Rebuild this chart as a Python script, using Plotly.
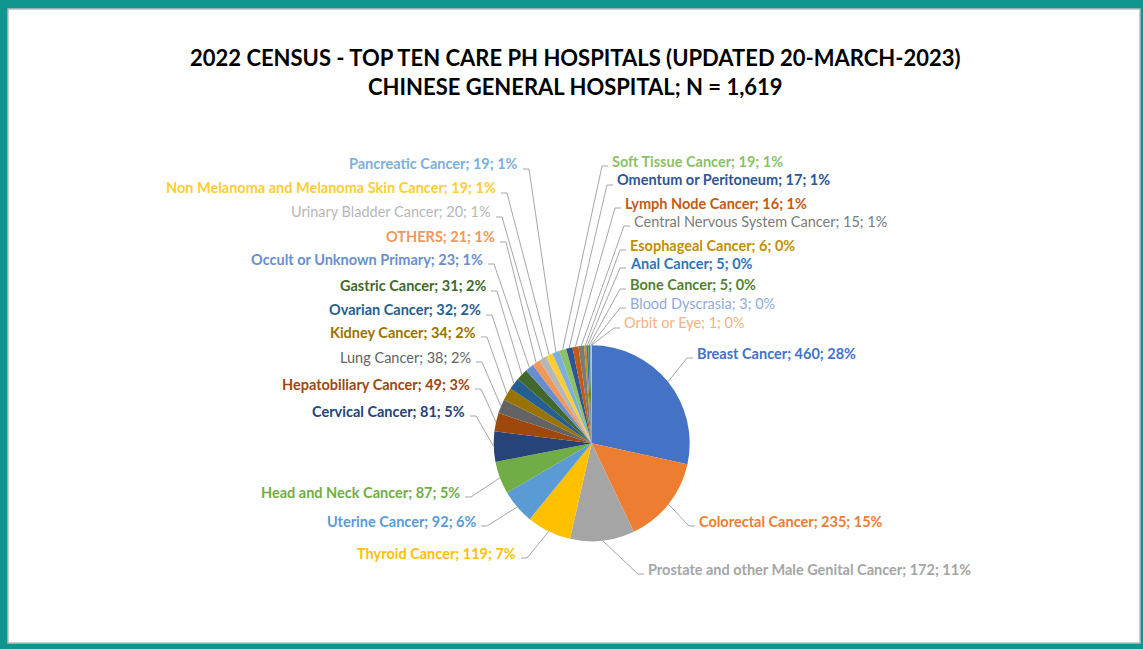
import plotly.graph_objects as go
import math

# data (clockwise from 12 o'clock)
cancers = [
    "Breast Cancer", "Colorectal Cancer", "Prostate and other Male Genital Cancer",
    "Thyroid Cancer", "Uterine Cancer", "Head and Neck Cancer", "Cervical Cancer",
    "Hepatobiliary Cancer", "Lung Cancer", "Kidney Cancer", "Ovarian Cancer",
    "Gastric Cancer", "Occult or Unknown Primary", "OTHERS", "Urinary Bladder Cancer",
    "Non Melanoma and Melanoma Skin Cancer", "Pancreatic Cancer", "Soft Tissue Cancer",
    "Omentum or Peritoneum", "Lymph Node Cancer", "Central Nervous System Cancer",
    "Esophageal Cancer", "Anal Cancer", "Bone Cancer", "Blood Dyscrasia", "Orbit or Eye",
]
counts = [460, 235, 172, 119, 92, 87, 81, 49, 38, 34, 32, 31, 23, 21, 20,
          19, 19, 19, 17, 16, 15, 6, 5, 5, 3, 1]

# excel office palette
colors = ["#4472C4", "#ED7D31", "#A5A5A5", "#FFC000", "#5B9BD5", "#70AD47",
          "#264478", "#9E480E", "#636363", "#997300", "#255E91", "#43682B",
          "#698ED0", "#F1975A", "#B7B7B7", "#FFCD33", "#7CAFDD", "#8CC168",
          "#2F5597", "#C55A11", "#7B7B7B", "#BF9000", "#2E75B6", "#548235",
          "#8FAADC", "#F4B183"]

W, H = 1143, 649
CX, CY, R = 591.7, 443.3, 98

# label placement (pixels): right-anchored on the left side, left-anchored on the right
label_pos = [
    (695, 353, "r"), (697, 521, "r"), (646, 569, "r"), (518, 553, "l"),
    (478, 521, "l"), (462, 492, "l"), (467, 411, "l"), (472, 384, "l"),
    (473, 357, "l"), (478, 332, "l"), (483, 310, "l"), (488, 286, "l"),
    (485, 259, "l"), (497, 237, "l"), (493, 212, "l"), (498, 188, "l"),
    (520, 164, "l"), (610, 161, "r"), (615, 180, "r"), (623, 203, "r"),
    (632, 221, "r"), (628, 245, "r"), (628, 263, "r"), (628, 284, "r"),
    (628, 303, "r"), (622, 323, "r"),
]
bold = [1, 1, 1, 1, 1, 1, 1, 1, 0, 1, 1, 1, 1, 1, 0, 1, 1, 1, 1, 1, 0, 1, 1, 1, 0, 0]


def px(x, y):
    return x / W, 1 - y / H


total = sum(counts)

fig = go.Figure(go.Pie(
    labels=cancers, values=counts, sort=False, direction="clockwise", rotation=0,
    marker=dict(colors=colors, line=dict(width=0)), textinfo="none",
    domain=dict(x=[(CX - R) / W, (CX + R) / W], y=[1 - (CY + R) / H, 1 - (CY - R) / H]),
    showlegend=False,
))

shapes = []
# teal frame with white card
x0, y0 = px(8, 9)
x1, y1 = px(1140, 643)
shapes.append(dict(type="rect", xref="paper", yref="paper", x0=x0, y0=y1, x1=x1, y1=y0,
                   fillcolor="white", line=dict(color="#BDBDBD", width=1.5), layer="below"))

annotations = []
cum = 0
for name, v, col, (lx, ly, side), b in zip(cancers, counts, colors, label_pos, bold):
    mid = (cum + v / 2) / total * 2 * math.pi
    cum += v
    ex, ey = CX + R * math.sin(mid), CY - R * math.cos(mid)
    txt = f"{name}; {v}; {round(v / total * 100)}%"
    if b:
        txt = f"<b>{txt}</b>"
    ax, ay = px(lx, ly)
    annotations.append(dict(text=txt, x=ax, y=ay, xref="paper", yref="paper",
                            xanchor="left" if side == "r" else "right", yanchor="middle",
                            showarrow=False, font=dict(family="Lato", size=14.5, color=col)))
    if side == "r":
        tx0, tx1 = lx - 2, lx - 8
    else:
        tx0, tx1 = lx + 3, lx + 9
    pa = px(tx0, ly + 5)
    pb = px(tx1, ly + 5)
    pc = px(ex, ey)
    shapes.append(dict(type="path", xref="paper", yref="paper",
                       path=f"M {pa[0]},{pa[1]} L {pb[0]},{pb[1]} L {pc[0]},{pc[1]}",
                       line=dict(color="#A6A6A6", width=1)))

t1 = px(575, 42)
t2 = px(575, 71)
annotations.append(dict(text="<b>2022 CENSUS - TOP TEN CARE PH HOSPITALS (UPDATED 20-MARCH-2023)</b>",
                        x=t1[0], y=t1[1], xref="paper", yref="paper", showarrow=False,
                        font=dict(family="Lato", size=22, color="black")))
annotations.append(dict(text="<b>CHINESE GENERAL HOSPITAL; N = 1,619</b>",
                        x=t2[0], y=t2[1], xref="paper", yref="paper", showarrow=False,
                        font=dict(family="Lato", size=22, color="black")))

fig.update_layout(
    width=W, height=H, margin=dict(l=0, r=0, t=0, b=0),
    paper_bgcolor="#11968F", plot_bgcolor="white",
    shapes=shapes, annotations=annotations,
)

fig.write_html("out.html", config={"displayModeBar": False},
               post_script="document.body.style.margin='0';document.body.style.overflow='hidden';")
